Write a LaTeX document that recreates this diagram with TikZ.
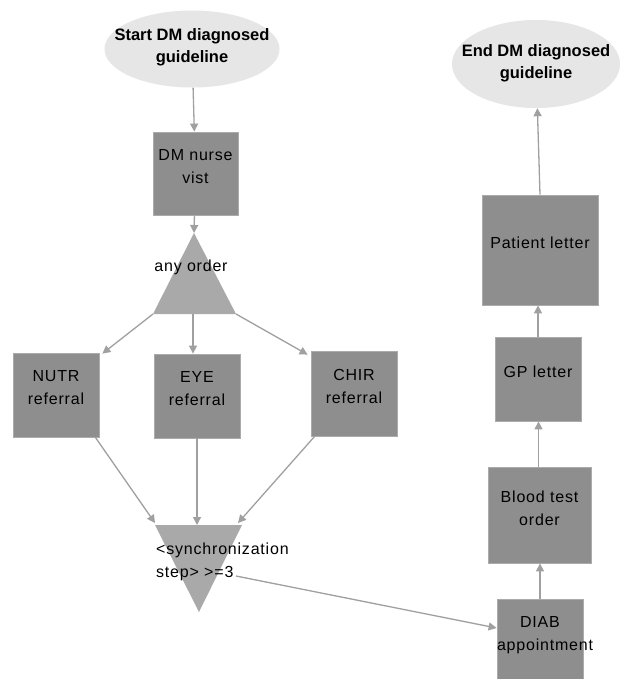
\documentclass[tikz,border=0pt]{standalone}
\usepackage{fontspec}
\usetikzlibrary{shapes.geometric,arrows.meta,calc}
\newfontfamily\lblfont[LetterSpace=5]{Liberation Sans}
\newfontfamily\ttlfont{Liberation Sans}
\definecolor{boxgray}{HTML}{8E8E8E}
\definecolor{boxedge}{HTML}{ABABAB}
\definecolor{trigray}{HTML}{A9A9A9}
\definecolor{ellgray}{HTML}{E6E6E6}
\definecolor{arrgray}{HTML}{A0A0A0}
\begin{document}
\begin{tikzpicture}[x=1pt,y=-1pt,
  boxnode/.style={draw=boxedge,line width=0.8pt,fill=boxgray,inner sep=0pt},
  lbl/.style={inner sep=0pt,align=center,font=\lblfont\fontsize{16}{23}\selectfont,text=black},
  ell/.style={ellipse,fill=ellgray,inner sep=0pt},
  ttl/.style={inner sep=0pt,align=center,font=\ttlfont\bfseries\fontsize{16.5}{22}\selectfont},
  arr/.style={draw=arrgray,line width=1.3pt,-{Triangle[length=8pt,width=8pt]},arrgray}]
\clip (0,0) rectangle (620,679);
\fill[white] (0,0) rectangle (620,679);

% ellipses
\node[ell,minimum width=175pt,minimum height=77pt] (start) at (192,49) {};
\node[ttl] at (192,47) {Start DM diagnosed\\guideline};
\node[ell,minimum width=168pt,minimum height=88pt] (end) at (536,64) {};
\node[ttl] at (536,63) {End DM diagnosed\\guideline};

% left column boxes
\node[boxnode,minimum width=85pt,minimum height=83pt] (nurse) at (195.5,173.5) {};
\node[lbl] at ([yshift=7pt]nurse.center) {DM nurse\\vist};

\node[boxnode,minimum width=86pt,minimum height=84pt] (nutr) at (56,395) {};
\node[lbl] at ([yshift=7pt]nutr.center) {NUTR\\referral};
\node[boxnode,minimum width=86pt,minimum height=84pt] (eye) at (197,396) {};
\node[lbl] at ([yshift=7pt]eye.center) {EYE\\referral};
\node[boxnode,minimum width=86pt,minimum height=85pt] (chir) at (354,393.5) {};
\node[lbl] at ([yshift=7pt]chir.center) {CHIR\\referral};

% any order triangle
\coordinate (aotop) at (194,233);
\coordinate (aol) at (153,314);
\coordinate (aor) at (236,314);
\coordinate (aob) at (193,314);
\fill[trigray] (aotop) -- (aor) -- (aol) -- cycle;
\node[lbl] (ao) at (191,267) {any order};

% synchronization triangle
\coordinate (syl) at (155,525);
\coordinate (syr) at (242,525);
\coordinate (syb) at (199,612);
\coordinate (sym) at (197,525);
\fill[trigray] (syl) -- (syr) -- (syb) -- cycle;
\node[lbl,align=left,anchor=west] (sync) at (156,562) {<synchronization\\step> >=3};
\coordinate (syout) at (236,576);

% right column
\node[boxnode,minimum width=86pt,minimum height=86pt] (diab) at (540,642) {};
\node[lbl,text width=86pt] at ([yshift=7pt]diab.center) {DIAB\\appointment};
\node[boxnode,minimum width=103pt,minimum height=96pt] (blood) at (539.5,515) {};
\node[lbl] at ([yshift=7pt]blood.center) {Blood test\\order};
\node[boxnode,minimum width=86pt,minimum height=84pt] (gp) at (538,379) {};
\node[lbl] at ([yshift=7pt]gp.center) {GP letter};
\node[boxnode,minimum width=116pt,minimum height=110pt] (patient) at (540,250) {};
\node[lbl] at ([yshift=7pt]patient.center) {Patient letter};

% connectors
\draw[arr] (start) -- (nurse);
\draw[arr] (nurse) -- (aotop);
\draw[arr] (aol) -- ([shift={(3pt,-1pt)}]nutr.north east);
\draw[arr] (aob) -- (aob |- eye.north);
\draw[arr] (aor) -- ([shift={(-3pt,-4pt)}]chir.north west);
\draw[arr] ([xshift=-4pt]nutr.south east) -- ([yshift=2pt]syl);
\draw[arr] (eye.south) -- (eye.south |- sym);
\draw[arr] ([xshift=4pt]chir.south west) -- ([shift={(-4pt,2pt)}]syr);
\draw[arr] (syout) -- ([yshift=14pt]diab.west);
\draw[arr] (diab.north) -- (diab.north |- blood.south);
\draw[arr] ([xshift=-1pt]blood.north) -- ([xshift=-1pt]blood.north |- gp.south);
\draw[arr] (gp.north) -- (gp.north |- patient.south);
\draw[arr] (patient.north) -- (end);
\end{tikzpicture}
\end{document}
